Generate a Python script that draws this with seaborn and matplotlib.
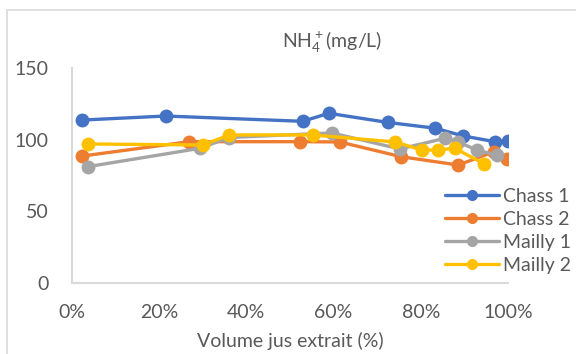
import matplotlib
matplotlib.use("Agg")
import matplotlib.pyplot as plt
import pandas as pd
import seaborn as sns
from matplotlib.patches import Rectangle
from matplotlib.ticker import PercentFormatter

# Extracted juice volume (%) and NH4+ concentration (mg/L) per sample
chass1_x = [2.4, 21.5, 52.9, 58.9, 72.5, 83.3, 89.7, 97.0, 99.9]
chass1_y = [113.7, 116.5, 112.8, 118.4, 112.0, 108.0, 102.6, 98.6, 99.1]

chass2_x = [2.4, 26.9, 52.3, 61.4, 75.5, 88.6, 96.8, 99.7]
chass2_y = [88.6, 98.6, 98.6, 98.4, 88.1, 82.3, 91.6, 86.5]

mailly1_x = [3.7, 29.4, 36.0, 59.6, 75.2, 85.6, 88.6, 92.8, 97.4]
mailly1_y = [81.2, 94.0, 101.5, 104.7, 93.5, 101.0, 98.4, 92.8, 89.3]

mailly2_x = [3.7, 30.0, 36.1, 55.2, 74.1, 80.2, 83.9, 87.8, 94.6]
mailly2_y = [97.0, 96.3, 103.3, 103.3, 98.4, 92.8, 92.8, 94.0, 83.0]

series_names = ["Chass 1", "Chass 2", "Mailly 1", "Mailly 2"]
series_colors = ["#4472C4", "#ED7D31", "#A5A5A5", "#FFC000"]
y_ticks = [0, 50, 100, 150]
x_ticks = [0, 20, 40, 60, 80, 100]

frames = []
for name, xs, ys in zip(series_names,
                        [chass1_x, chass2_x, mailly1_x, mailly2_x],
                        [chass1_y, chass2_y, mailly1_y, mailly2_y]):
    frames.append(pd.DataFrame({"volume": xs, "nh4": ys, "serie": name}))
df = pd.concat(frames, ignore_index=True)

sns.set_theme(style="white")
plt.rcParams["font.family"] = ["Lato", "DejaVu Sans"]
plt.rcParams["mathtext.default"] = "regular"
text_col = "#595959"
axis_col = "#D9D9D9"

W, H = 576, 354
fig = plt.figure(figsize=(W / 100, H / 100), dpi=100)
ax = fig.add_axes([72 / W, 1 - 283 / H, (508 - 72) / W, (283 - 68) / H])

# chart-area border
fig.patches.append(Rectangle((7 / W, -0.1), 1.2, 1.1 - 10 / H,
                             transform=fig.transFigure, fill=False,
                             edgecolor=axis_col, linewidth=1.2))

sns.lineplot(data=df, x="volume", y="nh4", hue="serie",
             hue_order=series_names,
             palette=dict(zip(series_names, series_colors)),
             marker="o", markersize=10, markeredgewidth=0,
             linewidth=2.4, sort=False, ax=ax, legend=False)

ax.set_xlim(0, 100)
ax.set_ylim(0, 150)
ax.set_xticks(x_ticks)
ax.set_yticks(y_ticks)
ax.xaxis.set_major_formatter(PercentFormatter(100, decimals=0))
ax.tick_params(axis="both", length=0, labelsize=14, colors=text_col)
ax.tick_params(axis="y", pad=17)
ax.tick_params(axis="x", pad=15)
for side in ["top", "right"]:
    ax.spines[side].set_visible(False)
for side in ["left", "bottom"]:
    ax.spines[side].set_color(axis_col)
    ax.spines[side].set_linewidth(1.5)
ax.set_xlabel("Volume jus extrait (%)", fontsize=14, color=text_col, labelpad=8)
ax.set_ylabel("")
ax.grid(False)

fig.text(332 / W, 1 - 41 / H, "NH$_4^+$(mg/L)", ha="center", va="center",
         fontsize=14, color=text_col)

handles = [plt.Line2D([], [], color=c, linewidth=2.4, marker="o",
                      markersize=8, markeredgewidth=0) for c in series_colors]
leg = fig.legend(handles, series_names, loc="upper left",
                 bbox_to_anchor=(445 / W, 1 - 188 / H), frameon=False,
                 fontsize=14, handlelength=2.8, handletextpad=0.2,
                 labelspacing=0.3, borderpad=0, borderaxespad=0)
for t in leg.get_texts():
    t.set_color(text_col)

fig.savefig("out.png", dpi=100)
